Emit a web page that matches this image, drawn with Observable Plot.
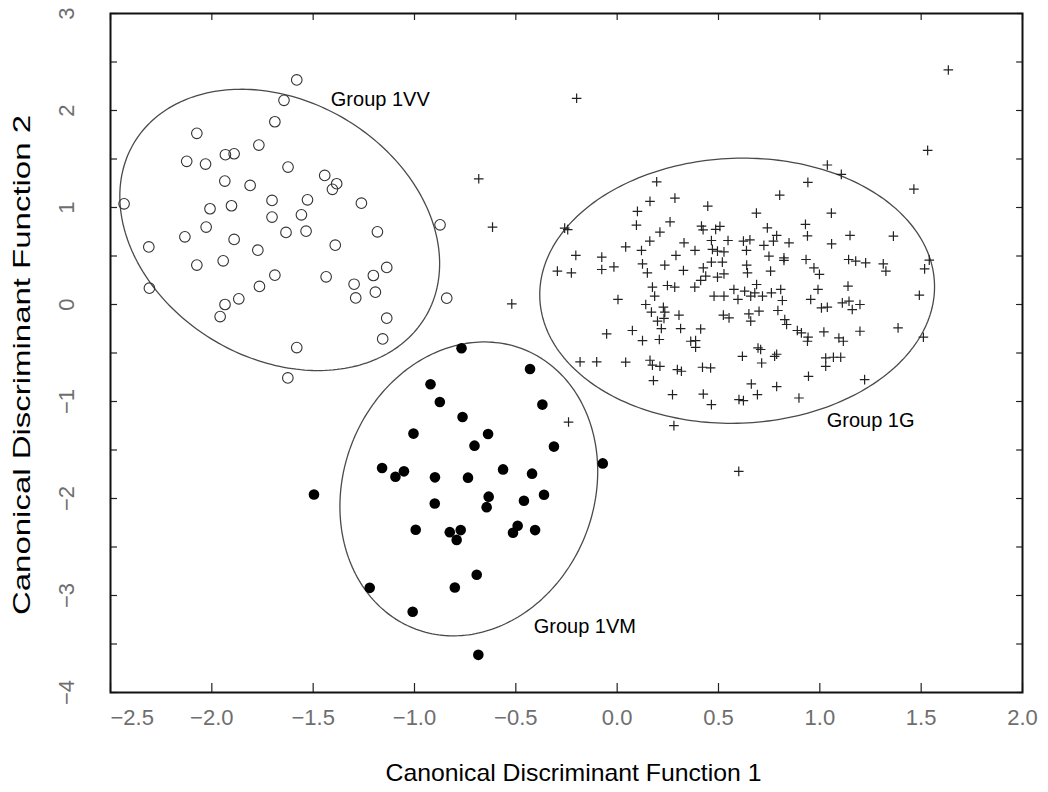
<!DOCTYPE html>
<html><head><meta charset="utf-8">
<script src="https://cdn.jsdelivr.net/npm/d3@7"></script>
<script src="https://cdn.jsdelivr.net/npm/@observablehq/plot@0.6"></script>
<style>body{margin:0;background:#fff;} svg{display:block}</style>
</head><body><div id="chart"></div>
<script>
// Group 1VV (open circles)
const group1VV_x = [-1.581,-1.644,-1.689,-2.074,-1.768,-1.933,-1.890,-2.124,-2.031,-1.624,
-1.936,-1.811,-1.443,-1.384,-1.405,-2.433,-1.703,-1.528,-1.262,-2.009,
-1.903,-1.703,-1.558,-0.874,-2.028,-1.634,-1.535,-1.183,-2.133,-1.890,
-1.391,-2.311,-1.773,-2.074,-1.944,-1.689,-1.436,-1.137,-1.298,-1.203,
-2.308,-1.765,-1.867,-1.935,-1.959,-1.290,-1.193,-0.841,-1.137,-1.157,
-1.581,-1.625];
const group1VV_y = [2.315,2.105,1.884,1.765,1.644,1.544,1.554,1.476,1.448,1.417,
1.272,1.228,1.331,1.245,1.187,1.038,1.073,1.079,1.045,0.987,
1.018,0.901,0.925,0.821,0.798,0.743,0.756,0.749,0.698,0.671,
0.612,0.594,0.560,0.406,0.450,0.302,0.285,0.382,0.209,0.299,
0.168,0.186,0.058,0.000,-0.124,0.068,0.127,0.065,-0.141,-0.355,
-0.444,-0.757];

// Group 1VM (filled circles)
const group1VM_x = [-0.768,-0.430,-0.921,-0.875,-0.369,-0.763,-1.005,-0.637,-0.704,-0.312,
-0.071,-1.160,-1.052,-1.094,-0.899,-0.736,-0.563,-0.420,-1.496,-0.634,
-0.644,-0.900,-0.460,-0.361,-0.994,-0.826,-0.772,-0.792,-0.491,-0.514,
-0.405,-0.693,-1.221,-0.801,-1.009,-0.685];
const group1VM_y = [-0.451,-0.665,-0.822,-1.005,-1.032,-1.160,-1.331,-1.335,-1.455,-1.465,
-1.638,-1.686,-1.720,-1.775,-1.782,-1.785,-1.700,-1.744,-1.958,-1.981,
-2.089,-2.051,-2.023,-1.961,-2.322,-2.347,-2.326,-2.427,-2.281,-2.353,
-2.326,-2.786,-2.921,-2.917,-3.168,-3.612];

// Group 1G (crosses)
const group1G_x = [-0.200,-0.683,-0.615,-0.520,-0.240,0.280,1.634,1.532,1.464,0.600,
-0.259,-0.244,0.195,0.162,0.285,0.100,0.447,0.095,0.261,0.211,
0.416,0.424,0.507,0.486,0.161,0.042,0.120,0.330,0.384,0.465,
0.547,0.623,0.638,0.290,0.470,0.495,0.527,-0.204,-0.076,-0.076,
-0.016,-0.295,-0.226,0.125,0.149,0.235,0.327,0.425,0.465,0.519,
0.437,0.495,0.527,0.639,0.643,1.037,1.106,0.941,0.802,0.687,
1.057,0.741,0.787,0.929,0.939,1.149,1.363,0.655,0.724,0.771,
0.848,1.058,0.749,0.823,0.823,0.932,0.971,0.998,1.142,1.177,
1.226,1.313,1.326,1.540,1.517,0.757,0.412,0.004,0.174,0.185,
0.248,0.284,0.383,0.141,0.228,0.235,0.169,0.199,0.231,0.305,
0.478,0.527,0.576,0.596,0.629,0.659,0.688,0.679,0.717,0.761,
0.807,0.815,0.524,0.552,0.650,0.659,0.700,0.793,0.827,0.836,
0.889,-0.052,0.075,0.125,0.208,0.218,0.313,0.412,0.363,0.387,
0.387,0.618,0.695,0.713,0.777,0.787,-0.183,-0.101,0.042,0.162,
0.174,0.211,0.297,0.317,0.421,0.461,0.179,0.273,0.425,0.465,
0.601,0.623,0.662,0.692,0.787,0.897,0.708,0.991,0.955,1.008,
1.037,1.139,1.111,1.144,1.160,1.198,1.491,0.909,0.942,0.939,
1.020,1.094,1.116,1.198,1.386,1.511,1.029,1.067,1.103,1.029,
0.944,1.221];
const group1G_y = [2.126,1.296,0.798,0.006,-1.212,-1.249,2.418,1.589,1.190,-1.72,
0.787,0.772,1.265,1.063,1.097,0.960,1.014,0.818,0.852,0.746,
0.808,0.770,0.805,0.774,0.653,0.594,0.557,0.636,0.557,0.660,
0.660,0.653,0.557,0.506,0.568,0.550,0.543,0.506,0.488,0.361,
0.388,0.344,0.326,0.419,0.326,0.406,0.351,0.378,0.437,0.437,
0.292,0.282,0.316,0.406,0.326,1.438,1.342,1.259,1.128,0.942,
0.942,0.790,0.712,0.826,0.708,0.712,0.705,0.667,0.609,0.653,
0.636,0.625,0.498,0.481,0.454,0.464,0.378,0.310,0.464,0.447,
0.429,0.419,0.344,0.457,0.367,0.344,0.248,0.052,0.179,0.086,
0.196,0.179,0.179,0.000,-0.028,-0.079,-0.079,-0.172,-0.144,-0.110,
0.086,0.086,0.155,0.052,0.137,0.086,0.206,0.120,0.086,0.120,
0.155,0.041,-0.110,-0.138,-0.097,-0.172,-0.069,-0.062,-0.155,-0.206,
-0.268,-0.303,-0.268,-0.372,-0.361,-0.248,-0.248,-0.252,-0.379,-0.372,
-0.441,-0.534,-0.448,-0.603,-0.534,-0.513,-0.592,-0.592,-0.595,-0.575,
-0.626,-0.637,-0.671,-0.688,-0.647,-0.654,-0.784,-0.929,-0.923,-1.032,
-0.980,-0.991,-0.819,-0.929,-0.846,-0.964,-0.464,0.155,0.052,-0.035,
-0.028,0.189,0.017,0.034,-0.052,0.000,0.096,-0.293,-0.337,-0.379,
-0.283,-0.345,-0.379,-0.276,-0.241,-0.337,-0.551,-0.544,-0.544,-0.637,
-0.740,-0.774];

// Group ellipses (center, half extents, correlation) and labels
const ellipseNames = ["Group 1VV", "Group 1VM", "Group 1G"];
const ellipseCx = [-1.665, -0.732, 0.592];
const ellipseCy = [0.769, -1.901, 0.142];
const ellipseHalfW = [0.789, 0.636, 0.974];
const ellipseHalfH = [1.450, 1.515, 1.367];
const ellipseCorr = [-0.24, 0.12, 0.03];
const labelX = [-1.413, -0.412, 1.034];
const labelY = [2.108, -3.320, -1.194];

// Axes
const xTicks = [-2.5, -2.0, -1.5, -1.0, -0.5, 0.0, 0.5, 1.0, 1.5, 2.0];
const xTickLabels = ["−2.5", "−2.0", "−1.5", "−1.0", "−0.5", "0.0", "0.5", "1.0", "1.5", "2.0"];
const yTicks = [-4, -3.5, -3, -2.5, -2, -1.5, -1, -0.5, 0, 0.5, 1, 1.5, 2, 2.5, 3];
const yLabelTicks = [-4, -3, -2, -1, 0, 1, 2, 3];
const yTickLabels = ["−4", "−3", "−2", "−1", "0", "1", "2", "3"];
const xTitle = "Canonical Discriminant Function 1";
const yTitle = "Canonical Discriminant Function 2";

const W = 1048, H = 792;
const mL = 110, mR = 26, mT = 13, mB = 100;
const pw = W - mL - mR, ph = H - mT - mB;

const vv = group1VV_x.map((x, i) => ({x, y: group1VV_y[i]}));
const vm = group1VM_x.map((x, i) => ({x, y: group1VM_y[i]}));
const g = group1G_x.map((x, i) => ({x, y: group1G_y[i]}));

const ell = [];
ellipseNames.forEach((name, k) => {
  const r = ellipseCorr[k], s = Math.sqrt(1 - r * r);
  for (let j = 0; j <= 240; j++) {
    const t = j / 240 * 2 * Math.PI;
    ell.push({name,
      x: ellipseCx[k] + ellipseHalfW[k] * Math.cos(t),
      y: ellipseCy[k] + ellipseHalfH[k] * (r * Math.cos(t) + s * Math.sin(t))});
  }
});
const labels = ellipseNames.map((t, i) => ({t, x: labelX[i], y: labelY[i]}));

const font = "'Liberation Sans', Arial, Helvetica, sans-serif";
const tickColor = "#6e6e6e";

const chart = Plot.plot({
  width: W, height: H,
  marginLeft: mL, marginRight: mR, marginTop: mT, marginBottom: mB,
  style: {fontFamily: font, background: "#fff"},
  x: {domain: [-2.5, 2.0], axis: null},
  y: {domain: [-4, 3], axis: null},
  marks: [
    Plot.line(ell, {x: "x", y: "y", z: "name", stroke: "#4a4a4a", strokeWidth: 1.3}),
    Plot.dot(vv, {x: "x", y: "y", r: 5.3, stroke: "#333", strokeWidth: 1.1, fill: "none"}),
    Plot.dot(vm, {x: "x", y: "y", r: 5.3, fill: "#000", stroke: "none"}),
    Plot.dot(g, {x: "x", y: "y", symbol: "plus", r: 3.2, stroke: "#222", strokeWidth: 1.2}),
    Plot.text(labels, {x: "x", y: "y", text: "t", textAnchor: "start", lineAnchor: "middle", fontSize: 20, fill: "#000"}),
    // ticks (inward)
    Plot.tickX(xTicks, {x: d => d, stroke: "#222", strokeWidth: 1.2, insetTop: ph - 9}),
    Plot.tickX(xTicks, {x: d => d, stroke: "#222", strokeWidth: 1.2, insetBottom: ph - 7}),
    Plot.tickY(yTicks, {y: d => d, stroke: "#222", strokeWidth: 1.2, insetRight: pw - 7}),
    Plot.tickY(yTicks, {y: d => d, stroke: "#222", strokeWidth: 1.2, insetLeft: pw - 6}),
    Plot.frame({stroke: "#111", strokeWidth: 2}),
    // tick labels
    Plot.text(xTickLabels.slice(0, 1), {x: xTicks.slice(0, 1), text: d => d, frameAnchor: "bottom", dy: 25, textAnchor: "start", lineAnchor: "middle", fontSize: 22, fill: tickColor}),
    Plot.text(xTickLabels.slice(1), {x: xTicks.slice(1), text: d => d, frameAnchor: "bottom", dy: 25, textAnchor: "middle", lineAnchor: "middle", fontSize: 22, fill: tickColor}),
    Plot.text(yTickLabels, {y: yLabelTicks, text: d => d, frameAnchor: "left", dx: -44, rotate: -90, textAnchor: "middle", lineAnchor: "middle", fontSize: 22, fill: tickColor}),
    // axis titles
    Plot.text([xTitle], {text: d => d, frameAnchor: "bottom", dy: 81, dx: 7, textAnchor: "middle", lineAnchor: "middle", fontSize: 24, fill: "#000"}),
    Plot.text([yTitle], {text: d => d, frameAnchor: "left", dx: -88, dy: 12, rotate: -90, textAnchor: "middle", lineAnchor: "middle", fontSize: 24, fill: "#000"})
  ]
});
document.getElementById("chart").appendChild(chart);
// stretch the titles to the lengths seen in the reference
d3.select(chart).selectAll("text").filter(function() { return this.textContent === yTitle; })
  .attr("textLength", 500).attr("lengthAdjust", "spacingAndGlyphs");
d3.select(chart).selectAll("text").filter(function() { return this.textContent === xTitle; })
  .attr("textLength", 376).attr("lengthAdjust", "spacingAndGlyphs");
</script>
</body></html>
